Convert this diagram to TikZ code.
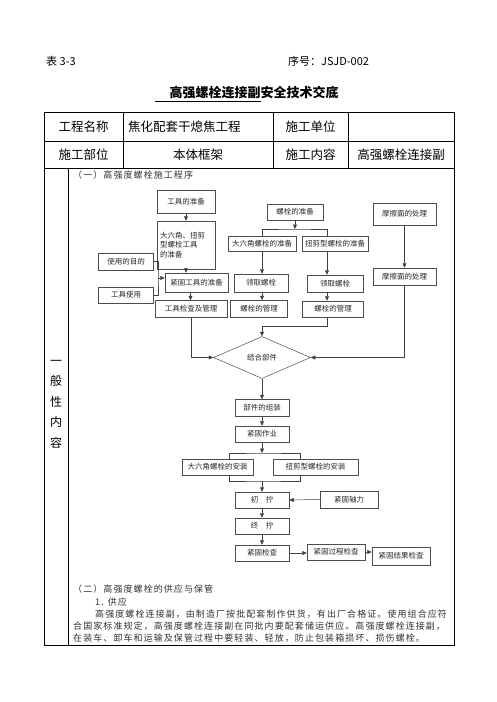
\documentclass[tikz,border=0pt]{standalone}
\usepackage{fontspec}
\setmainfont{Noto Sans CJK SC}
\newfontfamily\trackfont[LetterSpace=12]{Noto Sans CJK SC}
\usetikzlibrary{arrows.meta,shapes.geometric,calc}
\newcommand\fbfont{\fontsize{7.5}{9.5}\selectfont}
\newcommand\bodyfont{\trackfont\fontsize{9}{11}\selectfont}
\tikzset{
  fb/.style={draw=black!70, line width=0.5pt, inner sep=1pt, font=\fbfont, text=black!85},
  ln/.style={draw=black!75, line width=0.5pt},
  arr/.style={ln, -{Triangle[length=4.5pt,width=4pt]}},
  tl/.style={line width=0.8pt},
  cell/.style={font=\fontsize{12.5}{14}\selectfont, inner sep=0},
  body/.style={anchor=west, font=\bodyfont, text=black!80, inner sep=0}
}
\begin{document}
\begin{tikzpicture}[x=1pt,y=-1pt]
\useasboundingbox (0,0) rectangle (496,702);
\fill[white] (0,0) rectangle (496,702);

% header
\node[anchor=west, font=\fontsize{11}{13}\selectfont, inner sep=0] (hdl) at (46,61) {表 3-3};
\node[anchor=west, font=\fontsize{11}{13}\selectfont, inner sep=0] (hdr) at (288,61) {序号：JSJD-002};
\node[font=\fontsize{13}{15}\selectfont\bfseries, inner sep=0] (title) at (254,93) {高强螺栓连接副安全技术交底};
\draw[line width=0.8pt] (155,101.5) -- (261,101.5);

% table
\draw[tl] (44,112) rectangle (454,645);
\draw[tl] (44,141) -- (454,141);
\draw[tl] (44,168) -- (454,168);
\draw[tl] (123,112) -- (123,168);
\draw[tl] (273,112) -- (273,168);
\draw[tl] (348,112) -- (348,168);
\draw[tl] (68,168) -- (68,645);

\node[cell] (c11) at (83.5,127) {工程名称};
\node[cell, anchor=west] (c12) at (128,127) {焦化配套干熄焦工程};
\node[cell] (c13) at (310.5,127) {施工单位};
\node[cell] (c21) at (83.5,154.5) {施工部位};
\node[cell] (c22) at (198,154.5) {本体框架};
\node[cell] (c23) at (310.5,154.5) {施工内容};
\node[cell] (c24) at (401,154.5) {高强螺栓连接副};

\node[font=\fontsize{12}{20.5}\selectfont, align=center, inner sep=0] (side) at (56,404) {一\\般\\性\\内\\容};

% section heading
\node[body] (h1) at (73,175) {（一）高强度螺栓施工程序};

% flowchart nodes
\node[fb, minimum width=58pt, minimum height=23pt] (tp) at (186,201.5) {工具的准备};
\node[fb, minimum width=58pt, minimum height=48pt, text width=52pt, align=left] (tools) at (186,245) {大六角、扭剪\\型螺栓工具\\的准备};
\node[fb, minimum width=56pt, minimum height=16pt] (bp) at (295,212) {螺栓的准备};
\node[fb, minimum width=63pt, minimum height=22pt] (fr1) at (404.5,214) {摩擦面的处理};
\node[fb, minimum width=68pt, minimum height=15pt] (hb) at (262,244) {大六角螺栓的准备};
\node[fb, minimum width=66pt, minimum height=15pt] (tb) at (335,244) {扭剪型螺栓的准备};
\node[fb, minimum width=63pt, minimum height=17pt] (fr2) at (404.5,276.5) {摩擦面的处理};
\node[fb, minimum width=55pt, minimum height=17pt] (pur) at (126,261.5) {使用的目的};
\node[fb, minimum width=55pt, minimum height=16pt] (use) at (126,295) {工具使用};
\node[fb, minimum width=63pt, minimum height=19pt] (gp) at (196.5,282.5) {紧固工具的准备};
\node[fb, minimum width=54pt, minimum height=18pt] (lq1) at (261,283) {领取螺栓};
\node[fb, minimum width=56pt, minimum height=17pt] (lq2) at (335,283.5) {领取螺栓};
\node[fb, minimum width=72pt, minimum height=17pt] (tm) at (191,309) {工具检查及管理};
\node[fb, minimum width=57pt, minimum height=17pt] (bm1) at (259,309) {螺栓的管理};
\node[fb, minimum width=61pt, minimum height=16pt] (bm2) at (333,309) {螺栓的管理};
\node[fb, shape=diamond, minimum width=97pt, minimum height=42pt, inner sep=0] (jh) at (262,357.5) {结合部件};
\node[fb, minimum width=54pt, minimum height=17pt] (zz) at (262,408) {部件的组装};
\node[fb, minimum width=54pt, minimum height=16pt] (jg) at (262,434) {紧固作业};
\node[fb, minimum width=71pt, minimum height=16pt] (hi) at (217.5,467) {大六角螺栓的安装};
\node[fb, minimum width=85pt, minimum height=16pt] (ti) at (315.5,467) {扭剪型螺栓的安装};
\node[fb, minimum width=54pt, minimum height=16pt] (cn) at (262,500) {初\quad 拧};
\node[fb, minimum width=58pt, minimum height=17pt] (zl) at (349,499.5) {紧固轴力};
\node[fb, minimum width=54pt, minimum height=16pt] (zn) at (262,526) {终\quad 拧};
\node[fb, minimum width=54pt, minimum height=16pt] (jc) at (262,553) {紧固检查};
\node[fb, minimum width=58pt, minimum height=16pt] (gc) at (336,552) {紧固过程检查};
\node[fb, minimum width=58pt, minimum height=18pt] (rc) at (401,556) {紧固结果检查};

% helper coordinates
\coordinate (xR) at (327,0);
\coordinate (bs) at (295,229);
\coordinate (brk) at (158,278);
\coordinate (jn) at (262,326);
\coordinate (xa) at (229,0);
\coordinate (xb) at (300,0);
\coordinate (s2) at (262,453);
\coordinate (m2) at (262,481);

% connectors
\draw[arr] (tp.south) -- (tools.north);
\draw[arr] (tools.south) -- (tools.south |- gp.north);
\draw[ln] (pur.east) -| (brk) |- (use.east);
\draw[arr] (brk) -- (brk -| gp.west);
\draw[arr] ([xshift=-6pt]gp.south) -- ([xshift=-6pt]gp.south |- tm.north);

\draw[arr] (bp.south) -- (bs);
\draw[ln] (hb.north) |- (bs) -| (xR |- tb.north);
\draw[arr] (hb.south) -- (hb.south |- lq1.north);
\draw[arr] (xR |- tb.south) -- (xR |- lq2.north);
\draw[arr] (fr1.south) -- (fr2.north);
\draw[arr] (hb.south |- lq1.south) -- (hb.south |- bm1.north);
\draw[arr] (xR |- lq2.south) -- (xR |- bm2.north);
\draw[ln] (xR |- bm2.south) |- (jn);
\draw[arr] (jn) -- (jh.north);
\draw[arr] (tm.south) |- (jh.west);
\draw[arr] (fr2.south) |- (jh.east);

\draw[arr] (jh.south) -- (zz.north);
\draw[arr] (zz.south) -- (jg.north);
\draw[arr] (jg.south) -- (s2);
\draw[ln] (xa |- hi.north) |- (s2) -| (xb |- ti.north);
\draw[ln] (xa |- hi.south) |- (m2) -| (xb |- ti.south);
\draw[arr] (m2) -- (cn.north);
\draw[arr] (zl.west) -- (cn.east);
\draw[arr] (cn.south) -- (zn.north);
\draw[arr] (zn.south) -- (jc.north);
\draw[arr] (jc.east) -- (jc.east -| gc.west);
\draw[arr] (gc.east) -- (gc.east -| rc.west);

% lower text
\node[body] (h2) at (73,589) {（二）高强度螺栓的供应与保管};
\node[body] (p0) at (95,602) {1. 供应};
\node[body] (p1) at (95,614.5) {高强度螺栓连接副，由制造厂按批配套制作供货，有出厂合格证。使用组合应符};
\node[body] (p2) at (73,626.5) {合国家标准规定，高强度螺栓连接副在同批内要配套储运供应。高强度螺栓连接副，};
\node[body] (p3) at (73,638.5) {在装车、卸车和运输及保管过程中要轻装、轻放，防止包装箱损坏、损伤螺栓。};
\end{tikzpicture}
\end{document}
